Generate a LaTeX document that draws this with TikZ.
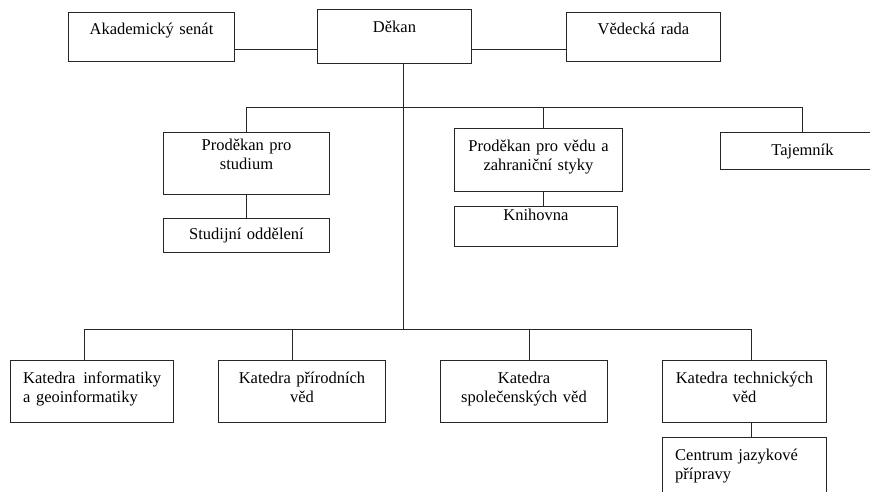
\documentclass[tikz,border=0pt]{standalone}
\usepackage{fontspec}
\setmainfont{Liberation Serif}
\usepackage{tikz}
\usetikzlibrary{calc}
\tikzstyle{tsBox} = [ 
    rectangle,
    draw=black!85,
    line width=1pt,
    inner sep=0pt,
    anchor=north west
]
\tikzstyle{tsText} = [ 
    text=black, 
    font=\fontsize{16.5}{19}\selectfont,
    inner sep=0pt,
    execute at begin node=\strut,
    anchor=north
]
\tikzstyle{tsCenter} = [ 
    tsText, 
    text width=150pt,
    align=center
]
\tikzstyle{tsLeft} = [ 
    tsText, 
    text width=140pt,
    align=left,
    anchor=north west
]
\tikzstyle{tsLine} = [ 
    draw=black!85,
    line width=1pt
]

\begin{document}
\begin{tikzpicture}[x=1pt, y=-1pt]

        \clip (0,0) rectangle (870,492);

        % top row
        \node[tsBox, minimum width=166pt, minimum height=49pt] (senat) at (68,12) { };
        \node[tsBox, minimum width=154pt, minimum height=54pt] (dekan) at (317,9) { };
        \node[tsBox, minimum width=154pt, minimum height=49pt] (rada) at (566,12) { };

        \node[tsCenter] (senatText) at ([yshift=-8.7pt]senat.north) {Akademický senát};
        \node[tsCenter] (dekanText) at ([yshift=-9.7pt]dekan.north) {Děkan};
        \node[tsCenter] (radaText) at ([yshift=-8.7pt]rada.north) {Vědecká rada};

        % proděkani
        \node[tsBox, minimum width=166pt, minimum height=62pt] (prodStud) at (163,132) { };
        \node[tsBox, minimum width=166pt, minimum height=34pt] (studOdd) at (163,218) { };
        \node[tsBox, minimum width=168pt, minimum height=63pt] (prodVeda) at (454,128) { };
        \node[tsBox, minimum width=163pt, minimum height=40pt] (knihovna) at (454,206) { };
        \node[tsBox, minimum width=164pt, minimum height=37pt] (tajemnik) at (720,132) { };

        \node[tsCenter] (prodStudText) at ([yshift=-5.2pt]prodStud.north) {Proděkan pro\\ studium};
        \node[tsCenter] (studOddText) at ([yshift=-7.7pt]studOdd.north) {Studijní oddělení};
        \node[tsCenter] (prodVedaText) at ([yshift=-10.2pt]prodVeda.north) {Proděkan pro vědu a\\ zahraniční styky};
        \node[tsCenter] (knihovnaText) at ([yshift=-0.7pt]knihovna.north) {Knihovna};
        \node[tsCenter] (tajemnikText) at ([yshift=-9.7pt]tajemnik.north) {Tajemník};

        % katedry
        \node[tsBox, minimum width=163pt, minimum height=62pt] (katInf) at (10,360) { };
        \node[tsBox, minimum width=167pt, minimum height=62pt] (katPrir) at (218,360) { };
        \node[tsBox, minimum width=167pt, minimum height=62pt] (katSpol) at (440,360) { };
        \node[tsBox, minimum width=164pt, minimum height=62pt] (katTech) at (662,360) { };
        \node[tsBox, minimum width=164pt, minimum height=70pt] (centrum) at (662,437) { };

        \node[tsLeft, text width=138pt] (katInfText) at ([xshift=13pt, yshift=-9.7pt]katInf.north west) {Katedra\hfill informatiky\\ a geoinformatiky};
        \node[tsCenter] (katPrirText) at ([yshift=-9.7pt]katPrir.north) {Katedra přírodních\\ věd};
        \node[tsCenter] (katSpolText) at ([yshift=-9.7pt]katSpol.north) {Katedra\\ společenských věd};
        \node[tsCenter] (katTechText) at ([yshift=-9.7pt]katTech.north) {Katedra technických\\ věd};
        \node[tsLeft] (centrumText) at ([xshift=13pt, yshift=-9.7pt]centrum.north west) {Centrum jazykové\\ přípravy};

        % links
        \coordinate (senatLink) at ($(senat.south east)!0.25!(senat.north east)$);
        \coordinate (radaLink) at ($(rada.south west)!0.25!(rada.north west)$);
        \coordinate (trunkTop) at ([xshift=9pt]dekan.south);
        \coordinate (busUpper) at (0,108);
        \coordinate (busLower) at (0,329);
        \coordinate (vedaDrop) at ([xshift=5pt]prodVeda.north);
        \coordinate (infDrop) at ([xshift=-7.5pt]katInf.north);
        \coordinate (prirDrop) at ([xshift=-9.5pt]katPrir.north);
        \coordinate (spolDrop) at ([xshift=5.5pt]katSpol.north);
        \coordinate (techDrop) at ([xshift=7pt]katTech.north);

        \draw[tsLine] (senatLink) -- (senatLink -| dekan.west);
        \draw[tsLine] (radaLink) -- (radaLink -| dekan.east);
        \draw[tsLine] (trunkTop) -- (trunkTop |- busLower);

        \draw[tsLine] (prodStud.north) |- (busUpper -| tajemnik.north) -- (tajemnik.north);
        \draw[tsLine] (vedaDrop) -- (vedaDrop |- busUpper);
        \draw[tsLine] (prodStud.south) -- (studOdd.north);
        \draw[tsLine] ([xshift=5pt]prodVeda.south) -- ([xshift=7.5pt]knihovna.north);

        \draw[tsLine] (infDrop) |- (busLower -| techDrop) -- (techDrop);
        \draw[tsLine] (prirDrop) -- (prirDrop |- busLower);
        \draw[tsLine] (spolDrop) -- (spolDrop |- busLower);
        \draw[tsLine] ([xshift=7pt]katTech.south) -- ([xshift=7pt]centrum.north);

\end{tikzpicture}
\end{document}
